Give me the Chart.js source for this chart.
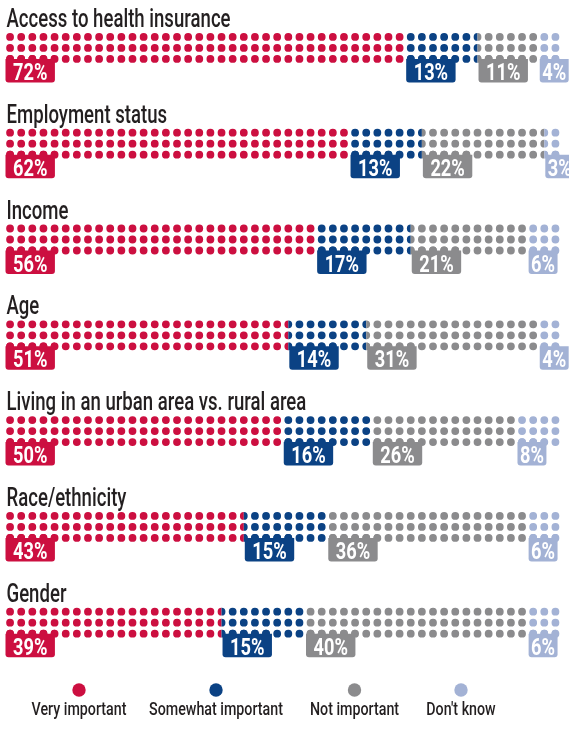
<!DOCTYPE html>
<html>
<head>
<meta charset="utf-8">
<script src="https://cdn.jsdelivr.net/npm/chart.js@4.4.1/dist/chart.umd.min.js"></script>
<style>
    html, body { margin: 0; padding: 0; background: #fff; }
    #dotChart { display: block; }
</style>
</head>
<body>
<canvas id="dotChart" width="569" height="729"></canvas>
<script>
const categories = [
    'Access to health insurance',
    'Employment status',
    'Income',
    'Age',
    'Living in an urban area vs. rural area',
    'Race/ethnicity',
    'Gender'
];
const seriesNames = ['Very important', 'Somewhat important', 'Not important', "Don't know"];
const veryImportant = [72, 62, 56, 51, 50, 43, 39];
const somewhatImportant = [13, 13, 17, 14, 16, 15, 15];
const notImportant = [11, 22, 21, 31, 26, 36, 40];
const dontKnow = [4, 3, 6, 4, 8, 6, 6];
const seriesColors = ['#cc0f40', '#0b4284', '#8b8b8d', '#a3b2d5'];

// draws text squeezed horizontally, to get close to the condensed face of the original
function squeezedText(ctx, text, x, y, sx, align) {
    const w = ctx.measureText(text).width * sx;
    let left = x;
    if (align === 'center') left = x - w / 2;
    ctx.save();
    ctx.translate(left, y);
    ctx.scale(sx, 1);
    ctx.textAlign = 'left';
    ctx.fillText(text, 0, 0);
    ctx.restore();
    return w;
}

const dotMatrix = {
    id: 'dotMatrix',
    afterDatasetsDraw(chart) {
        const ctx = chart.ctx;
        const area = chart.chartArea;
        const cols = 50;
        const pitch = (area.right - area.left) / cols;
        const rowGap = 11;
        const r = 3.9;

        function dotRow(y, x0, x1) {
            ctx.beginPath();
            for (let c = 0; c < cols; c++) {
                const cx = area.left + pitch / 2 + c * pitch;
                if (cx + r < x0 || cx - r > x1) continue;
                ctx.moveTo(cx + r, y);
                ctx.arc(cx, y, r, 0, Math.PI * 2);
            }
            ctx.fill();
        }

        // dots, clipped to each stacked segment
        chart.data.datasets.forEach((ds, di) => {
            const meta = chart.getDatasetMeta(di);
            meta.data.forEach(bar => {
                const x0 = Math.min(bar.base, bar.x);
                const x1 = Math.max(bar.base, bar.x);
                ctx.save();
                ctx.beginPath();
                ctx.rect(x0, bar.y - 20, x1 - x0, 40);
                ctx.clip();
                ctx.fillStyle = ds.dotColor;
                for (let k = -1; k <= 1; k++) dotRow(bar.y + k * rowGap, x0, x1);
                ctx.restore();
            });
        });

        // percentage tags under each segment
        ctx.font = 'bold 24px Roboto';
        chart.data.datasets.forEach((ds, di) => {
            const meta = chart.getDatasetMeta(di);
            meta.data.forEach((bar, i) => {
                const x0 = Math.min(bar.base, bar.x) + 1;
                const label = ds.data[i] + '%';
                const tw = ctx.measureText(label).width * 0.76;
                // single digit tags are cut tight, two digit ones get more room
                const pad = label.length > 2 ? 7.5 : 2.5;
                const w = tw + pad * 2;
                const top = bar.y + rowGap;
                const h = 23.5;
                ctx.fillStyle = ds.dotColor;
                ctx.beginPath();
                ctx.roundRect(x0, top, w, h, [0, 0, 3, 3]);
                ctx.fill();
                // scalloped top made of the third dot row
                ctx.save();
                ctx.beginPath();
                ctx.rect(x0, top - 6, w, 8);
                ctx.clip();
                dotRow(top, x0, x0 + w);
                ctx.restore();
                ctx.fillStyle = '#ffffff';
                squeezedText(ctx, label, x0 + pad, top + h - 2.5, 0.76);
            });
        });
    },
    afterDraw(chart) {
        const ctx = chart.ctx;
        const area = chart.chartArea;
        const meta = chart.getDatasetMeta(0);

        // category titles above each row of dots
        ctx.fillStyle = '#231f20';
        ctx.font = '500 26px Roboto';
        ctx.textBaseline = 'alphabetic';
        meta.data.forEach((bar, i) => {
            squeezedText(ctx, chart.data.labels[i], area.left + 2, bar.y - 21, 0.715);
        });

        // legend: dot above the name
        const centers = [79, 216, 354.5, 461];
        ctx.font = '500 19px Roboto';
        chart.data.datasets.forEach((ds, di) => {
            ctx.fillStyle = ds.dotColor;
            ctx.beginPath();
            ctx.arc(centers[di], 690, 6.7, 0, Math.PI * 2);
            ctx.fill();
            ctx.fillStyle = '#231f20';
            squeezedText(ctx, ds.label, centers[di], 715, 0.75, 'center');
        });
    }
};

const seriesData = [veryImportant, somewhatImportant, notImportant, dontKnow];

new Chart(document.getElementById('dotChart'), {
    type: 'bar',
    data: {
        labels: categories,
        datasets: seriesNames.map((name, i) => ({
            label: name,
            data: seriesData[i],
            dotColor: seriesColors[i],
            backgroundColor: 'rgba(0,0,0,0)',
            borderWidth: 0,
            barThickness: 34
        }))
    },
    options: {
        indexAxis: 'y',
        responsive: false,
        animation: false,
        layout: { padding: { left: 4.5, right: 8, top: 0, bottom: 58.4 } },
        scales: {
            x: { stacked: true, min: 0, max: 100, display: false },
            y: { stacked: true, display: false }
        },
        plugins: {
            legend: { display: false },
            tooltip: { enabled: false }
        }
    },
    plugins: [dotMatrix]
});
</script>
</body>
</html>
